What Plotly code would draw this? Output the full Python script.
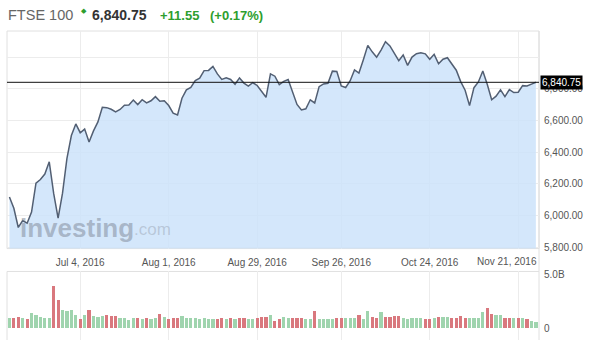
import numpy as np
import pandas as pd
import plotly.graph_objects as go

# ---- data ----
dates = [d for d in pd.bdate_range("2016-06-10", "2016-11-25") if d != pd.Timestamp("2016-08-29")]

close = [
    6115.76, 6044.97, 5923.53, 5966.80, 5950.48, 6021.09, 6204.00, 6226.55, 6261.19, 6338.10,
    6138.69, 5982.20, 6140.39, 6360.06, 6504.33, 6577.83, 6522.26, 6545.37, 6463.59, 6533.79,
    6590.64, 6682.86, 6680.69, 6670.40, 6654.47, 6669.24, 6695.42, 6697.37, 6728.99, 6699.89,
    6730.48, 6710.13, 6724.03, 6750.43, 6721.06, 6724.43, 6693.95, 6645.40, 6634.40, 6740.16,
    6793.45, 6809.13, 6851.30, 6866.42, 6914.71, 6916.02, 6941.19, 6893.92, 6859.15, 6868.96,
    6858.95, 6828.54, 6868.51, 6835.78, 6816.90, 6838.05, 6820.79, 6781.51, 6745.97, 6894.60,
    6879.42, 6826.05, 6846.58, 6858.70, 6776.95, 6700.90, 6665.63, 6673.31, 6730.30, 6710.28,
    6813.55, 6830.79, 6834.77, 6911.40, 6909.43, 6818.04, 6807.72, 6849.38, 6919.44, 6899.33,
    6983.52, 7074.34, 7033.25, 6999.96, 7044.39, 7097.50, 7070.88, 7024.01, 6977.74, 7013.55,
    6947.55, 7000.06, 7021.92, 7026.90, 7020.47, 6986.57, 7017.64, 6958.09, 6986.40, 6996.26,
    6954.22, 6917.14, 6845.42, 6790.51, 6693.26, 6806.90, 6843.13, 6911.84, 6827.98, 6730.43,
    6753.20, 6792.74, 6749.72, 6794.71, 6775.77, 6777.96, 6819.72, 6817.71, 6829.20, 6840.75,
]

volume_b = [
    0.86, 0.93, 1.02, 0.93, 0.83, 1.36, 1.14, 0.96, 0.93, 0.93,
    3.92, 2.59, 1.67, 1.54, 1.64, 1.17, 0.83, 1.20, 1.64, 1.08,
    1.02, 1.05, 1.17, 1.08, 1.05, 0.93, 0.93, 0.68, 0.86, 0.86,
    0.77, 0.86, 0.77, 0.86, 1.30, 1.02, 0.77, 0.86, 0.86, 1.05,
    0.93, 0.86, 0.86, 0.77, 0.86, 0.80, 0.77, 0.80, 0.86, 0.80,
    0.86, 0.80, 0.86, 0.93, 0.80, 0.77, 0.90, 1.02, 1.02, 1.20,
    0.62, 0.77, 0.99, 0.93, 0.93, 0.93, 0.93, 0.77, 0.83, 1.51,
    0.77, 0.77, 0.77, 0.83, 0.86, 0.86, 0.86, 0.86, 0.93, 1.20,
    0.77, 1.57, 0.99, 0.86, 1.48, 0.99, 0.99, 1.05, 1.05, 0.86,
    0.77, 0.86, 0.86, 0.93, 0.80, 0.77, 0.93, 1.02, 1.02, 1.02,
    0.86, 0.86, 1.08, 0.93, 0.93, 0.93, 0.86, 1.45, 1.79, 1.23,
    1.14, 1.17, 0.93, 0.93, 0.93, 0.86, 0.86, 0.83, 0.62, 0.56,
]

vol_dir = ("grrgrggggg" "rrggggrgrg" "ggrrrggggr" "grggrgrrrg" "gggggggrrg"
           "rgrrggrrrg" "rrggrrrggr" "ggggrrgggr" "ggrrgrrrrg" "ggggrrgrgg"
           "rrrrggggrr" "ggrrgrgrgg")

tick_dates = ["2016-07-04", "2016-08-01", "2016-08-29", "2016-09-26", "2016-10-24", "2016-11-21"]
tick_labels = ["Jul 4, 2016", "Aug 1, 2016", "Aug 29, 2016", "Sep 26, 2016", "Oct 24, 2016", "Nov 21, 2016"]

price_ticks = [5800, 6000, 6200, 6400, 6600, 6800, 7000]
price_tick_text = ["5,800.00", "6,000.00", "6,200.00", "6,400.00", "6,600.00", "6,800.00", ""]

last_price = 6840.75
title_name = "FTSE 100"
title_price = "6,840.75"
title_change = "+11.55"
title_pct = "(+0.17%)"

# ---- positions (trading-day index) ----
dts = pd.DatetimeIndex(dates)
xi = np.arange(len(dts))
tick_pos = [int(np.searchsorted(dts.values, np.datetime64(t))) for t in tick_dates]

W, H = 600, 351
ML, MR, MT, MB = 7, 61, 31, 9
PW, PH = W - ML - MR, H - MT - MB


def px(xp):
    return (xp - ML) / PW


def py(yp):
    return (H - MB - yp) / PH


GREEN = "#9fd4ae"
RED = "#d9787e"
bar_colors = [GREEN if c == "g" else RED for c in vol_dir]

fig = go.Figure()
fig.add_trace(go.Scatter(
    x=xi, y=close, mode="lines", fill="tozeroy",
    fillcolor="rgba(205,227,250,0.85)",
    line=dict(color="#525f73", width=1.5),
    xaxis="x", yaxis="y", hoverinfo="skip", showlegend=False,
))
fig.add_trace(go.Bar(
    x=xi, y=volume_b, marker=dict(color=bar_colors, line=dict(width=0)),
    width=0.72, xaxis="x2", yaxis="y2", hoverinfo="skip", showlegend=False,
))

price_dom = [py(250), 1]
vol_dom = [0, py(273)]
xr = [-0.55, 119.7]
grid = "#ececec"
border = "#e0e0e0"
lab = dict(family="Liberation Sans, Arial, sans-serif", size=10, color="#555")

# last tick label is placed flush with the plot edge (as in the reference)
xtick_text = tick_labels[:-1] + [""]

fig.update_layout(
    width=W, height=H, margin=dict(l=ML, r=MR, t=MT, b=MB),
    paper_bgcolor="white", plot_bgcolor="white",
    font=dict(family="Liberation Sans, Arial, sans-serif"),
    bargap=0,
    xaxis=dict(domain=[0, 1], range=xr, anchor="y", tickvals=tick_pos, ticktext=xtick_text,
               showgrid=True, gridcolor=grid, gridwidth=1, zeroline=False, showline=False,
               ticks="outside", ticklen=4, tickcolor="rgba(0,0,0,0)", tickfont=lab),
    yaxis=dict(domain=price_dom, range=[5790, 7165], side="right", anchor="x",
               tickvals=price_ticks, ticktext=price_tick_text, showgrid=True, gridcolor=grid,
               zeroline=False, showline=False, ticks="outside", ticklen=2,
               tickcolor="rgba(0,0,0,0)", tickfont=lab),
    xaxis2=dict(domain=[0, 1], range=xr, anchor="y2", tickvals=tick_pos, showticklabels=False,
                showgrid=True, gridcolor=grid, zeroline=False, showline=False),
    yaxis2=dict(domain=vol_dom, range=[-1.11, 5.28], side="right", anchor="x2",
                tickvals=[0, 5], ticktext=["0", "5.0B"], showgrid=False, zeroline=False,
                showline=False, ticks="outside", ticklen=2, tickcolor="rgba(0,0,0,0)",
                tickfont=lab),
)

shapes = [
    dict(type="rect", xref="paper", yref="paper", x0=0, x1=1, y0=price_dom[0], y1=1,
         line=dict(color=border, width=1), layer="below"),
    dict(type="line", xref="paper", yref="paper", x0=0, x1=1, y0=vol_dom[1], y1=vol_dom[1],
         line=dict(color=border, width=1), layer="below"),
    dict(type="line", xref="paper", yref="paper", x0=0, x1=0, y0=0, y1=vol_dom[1],
         line=dict(color=border, width=1), layer="below"),
    dict(type="line", xref="paper", yref="paper", x0=1, x1=1, y0=0, y1=1,
         line=dict(color=border, width=1), layer="below"),
    dict(type="line", xref="paper", yref="y", x0=0, x1=1, y0=last_price, y1=last_price,
         line=dict(color="#111", width=1)),
]
fig.update_layout(shapes=shapes)

ann = [
    dict(xref="paper", yref="paper", x=px(6), y=py(15), xanchor="left", yanchor="middle",
         text=title_name, showarrow=False, font=dict(size=14.5, color="#666")),
    dict(xref="paper", yref="paper", x=px(79), y=py(10), xanchor="left", yanchor="middle",
         text="◆", showarrow=False, font=dict(size=7, color="#2e9e2e")),
    dict(xref="paper", yref="paper", x=px(90), y=py(15), xanchor="left", yanchor="middle",
         text="<b>" + title_price + "</b>", showarrow=False, font=dict(size=14, color="#333")),
    dict(xref="paper", yref="paper", x=px(158), y=py(15), xanchor="left", yanchor="middle",
         text="<b>" + title_change + "</b>", showarrow=False, font=dict(size=13, color="#2e9e2e")),
    dict(xref="paper", yref="paper", x=px(208), y=py(15), xanchor="left", yanchor="middle",
         text="<b>" + title_pct + "</b>", showarrow=False, font=dict(size=13, color="#2e9e2e")),
    dict(xref="paper", yref="y", x=1, y=last_price, xanchor="left", yanchor="middle", xshift=1,
         text=title_price, showarrow=False, bgcolor="#000", borderpad=1,
         font=dict(size=10, color="white")),
    dict(xref="paper", yref="paper", x=1, y=py(263), xanchor="right", yanchor="middle",
         text=tick_labels[-1], showarrow=False, font=lab),
    dict(xref="paper", yref="paper", x=px(18), y=py(229), xanchor="left", yanchor="middle",
         text="<b>investing</b>", showarrow=False,
         font=dict(size=26, color="rgba(130,140,155,0.55)")),
    dict(xref="paper", yref="paper", x=px(132), y=py(231), xanchor="left", yanchor="middle",
         text=".com", showarrow=False, font=dict(size=17, color="rgba(150,160,175,0.45)")),
]
fig.update_layout(annotations=ann)

fig.write_html("out.html")
